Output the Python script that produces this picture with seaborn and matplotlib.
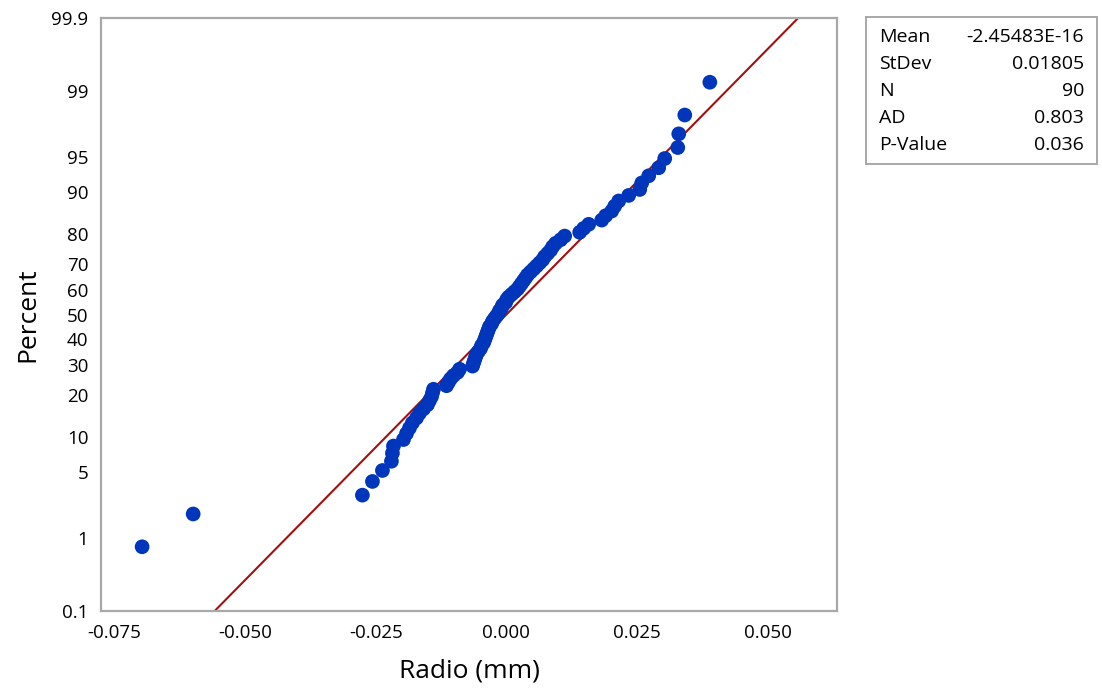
import numpy as np
import pandas as pd
import matplotlib
matplotlib.use("Agg")
import matplotlib.pyplot as plt
import seaborn as sns
from statistics import NormalDist

# ---- data ----
radio = [-0.06964, -0.05988, -0.02753, -0.02561, -0.02370, -0.02198, -0.02179, -0.02159,
         -0.01968, -0.01910, -0.01853, -0.01796, -0.01719, -0.01662, -0.01585, -0.01508,
         -0.01470, -0.01432, -0.01413, -0.01394, -0.01145, -0.01107, -0.01068, -0.01011,
         -0.00934, -0.00896, -0.00647, -0.00628, -0.00609, -0.00590, -0.00570, -0.00532,
         -0.00494, -0.00475, -0.00437, -0.00417, -0.00398, -0.00379, -0.00360, -0.00341,
         -0.00322, -0.00283, -0.00264, -0.00226, -0.00188, -0.00150, -0.00130, -0.00092,
         -0.00073, -0.00015, 0.00004, 0.00042, 0.00099, 0.00157, 0.00214, 0.00253,
         0.00291, 0.00329, 0.00368, 0.00406, 0.00463, 0.00521, 0.00578, 0.00635,
         0.00693, 0.00731, 0.00789, 0.00846, 0.00884, 0.00941, 0.01037, 0.01114,
         0.01401, 0.01477, 0.01573, 0.01822, 0.01898, 0.02013, 0.02070, 0.02147,
         0.02338, 0.02549, 0.02587, 0.02721, 0.02912, 0.03027, 0.03276, 0.03295,
         0.03410, 0.03889]
mean_val = -2.45483e-16
stdev_val = 0.01805
n_val = 90
ad_val = 0.803
p_val = 0.036
percent_ticks = [0.1, 1, 5, 10, 20, 30, 40, 50, 60, 70, 80, 90, 95, 99, 99.9]
percent_tick_labels = ["0.1", "1", "5", "10", "20", "30", "40", "50", "60", "70", "80", "90", "95", "99", "99.9"]
x_ticks = [-0.075, -0.050, -0.025, 0.000, 0.025, 0.050]
x_tick_labels = ["-0.075", "-0.050", "-0.025", "0.000", "0.025", "0.050"]
stats_labels = ["Mean", "StDev", "N", "AD", "P-Value"]
stats_values = ["-2.45483E-16", "0.01805", "90", "0.803", "0.036"]

nd = NormalDist()
xs = np.sort(np.array(radio))
n = len(xs)
ranks = np.arange(1, n + 1)
pct = (ranks - 0.3) / (n + 0.4)  # median ranks (Minitab)
zs = np.array([nd.inv_cdf(p) for p in pct])
df = pd.DataFrame({"Radio": xs, "z": zs})

z_lo = nd.inv_cdf(0.001)
z_hi = nd.inv_cdf(0.999)
zline = np.linspace(z_lo, z_hi, 200)
line_df = pd.DataFrame({"Radio": mean_val + stdev_val * zline, "z": zline})

sns.set_style("white")
plt.rcParams["font.family"] = ["Open Sans", "DejaVu Sans"]

fig = plt.figure(figsize=(11.02, 6.91), dpi=100)
ax = fig.add_axes([101 / 1102, 1 - 611 / 691, (837 - 101) / 1102, (611 - 18) / 691])

sns.lineplot(data=line_df, x="Radio", y="z", ax=ax, color="#A30F0F", lw=1.5,
             sort=False, estimator=None)
sns.scatterplot(data=df, x="Radio", y="z", ax=ax, color="#0036BC", s=112,
                edgecolor="none", linewidth=0, zorder=3)

ax.set_xlim(-0.0775, 0.0632)
ax.set_ylim(z_lo, z_hi)
ax.set_yticks([nd.inv_cdf(p / 100) for p in percent_ticks])
ax.set_yticklabels(percent_tick_labels)
ax.set_xticks(x_ticks)
ax.set_xticklabels(x_tick_labels)

grey = "#A8A8A8"
for s in ax.spines.values():
    s.set_color(grey)
    s.set_linewidth(1.6)
ax.tick_params(axis="both", which="major", direction="out", length=6, width=1.4,
               color=grey, labelsize=13.5, labelcolor="black", pad=3)
ax.set_xlabel("Radio (mm)", fontsize=19, labelpad=12, color="black")
ax.set_ylabel("Percent", fontsize=19, labelpad=8, color="black")

# stats box
box = plt.Rectangle((866 / 1102, 1 - 164 / 691), (1097 - 866) / 1102, (164 - 17) / 691,
                    transform=fig.transFigure, fill=False, edgecolor=grey, lw=1.4)
fig.add_artist(box)
row_y = [37, 64, 91, 118, 145]
for lab, val, yy in zip(stats_labels, stats_values, row_y):
    fig.text(879 / 1102, 1 - yy / 691, lab, fontsize=14, ha="left", va="center", color="black")
    fig.text(1084 / 1102, 1 - yy / 691, val, fontsize=14, ha="right", va="center", color="black")

fig.savefig("out.png", dpi=100)
